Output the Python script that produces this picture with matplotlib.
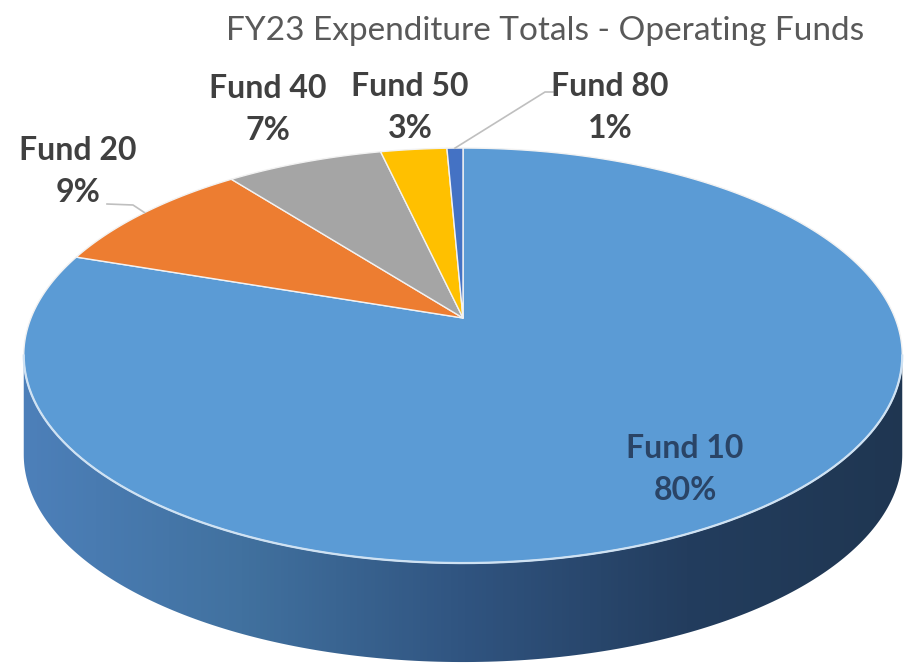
import numpy as np
import matplotlib.pyplot as plt
from matplotlib.patches import Polygon
from matplotlib.colors import LinearSegmentedColormap

# FY23 expenditure shares (labels show them rounded)
funds = ['Fund 10', 'Fund 20', 'Fund 40', 'Fund 50', 'Fund 80']
shares = [80.2, 9.3, 6.9, 2.9, 0.7]
colors = ['#5b9bd5', '#ed7d31', '#a5a5a5', '#ffc000', '#4472c4']
title = 'FY23 Expenditure Totals - Operating Funds'

# pie geometry in pixel units (tilted disc with a bit of perspective)
cx, cy = 463.0, 318.0
A, B, k = 432.0, 200.7, 0.181
depth = 99.0


def proj(theta_deg, z=0.0):
    t = np.radians(theta_deg)
    u, v = np.cos(t), np.sin(t)
    d = 1 + k * v
    return cx + A * u / d, cy + z - B * v / d


fig = plt.figure(figsize=(9.14, 6.65), dpi=100)
ax = fig.add_axes([0, 0, 1, 1])
ax.set_xlim(0, 914)
ax.set_ylim(665, 0)
ax.axis('off')

# slice angles, clockwise from 12 o'clock
cum = np.concatenate([[0], np.cumsum(shares)]) / np.sum(shares)
starts = 90 - cum[:-1] * 360
ends = 90 - cum[1:] * 360

# side wall of the front (only Fund 10 shows there)
th_r = -np.degrees(np.arcsin(k))
th_l = -180 + np.degrees(np.arcsin(k))
ts = np.linspace(th_r, th_l, 200)
tx, ty = proj(ts)
bx, by = proj(ts[::-1], depth)
side = Polygon(np.column_stack([np.r_[tx, bx], np.r_[ty, by]]),
               closed=True, facecolor='none', edgecolor='none')
ax.add_patch(side)
side_cmap = LinearSegmentedColormap.from_list(
    'side', ['#4d80ba', '#41719f', '#305480', '#233d5e', '#1f3651'])
grad = np.linspace(0, 1, 256)[None, :]
im = ax.imshow(grad, cmap=side_cmap, extent=(20, 910, 670, 300),
               aspect='auto', zorder=1)
im.set_clip_path(side)

# top face slices
for s, e, c in zip(starts, ends, colors):
    n = max(int(abs(s - e) * 2), 4)
    ax_, ay_ = proj(np.linspace(s, e, n))
    pts = np.column_stack([np.r_[cx, ax_], np.r_[cy, ay_]])
    ax.add_patch(Polygon(pts, closed=True, facecolor=c, edgecolor='#f2f2f2',
                         linewidth=1.0, joinstyle='round', zorder=2))

# light rim along the front edge
ax.plot(tx, ty, color='#cfe2f3', lw=1.6, zorder=3)

# data labels: name on top, percentage below
label_pos = [(685, 469), (78, 171), (268, 110), (410, 107), (610, 107)]
for i, (name, val) in enumerate(zip(funds, shares)):
    lx, ly = label_pos[i]
    col = '#2a4466' if i == 0 else '#404040'
    for txt, dy in [(name, -21), (f'{val:.0f}%', 21)]:
        ax.text(lx, ly + dy, txt, ha='center', va='center', fontsize=23,
                fontweight='bold', color=col, family='Lato', zorder=5)

# leader lines for Fund 20 and Fund 80
mid20 = (starts[1] + ends[1]) / 2
ex, ey = proj(mid20)
ax.plot([107, 133, ex], [204, 205, ey], color='#bfbfbf', lw=1.2, zorder=4)
mid80 = (starts[4] + ends[4]) / 2
ex, ey = proj(mid80)
ax.plot([553, 545, ex], [92, 92, ey], color='#bfbfbf', lw=1.2, zorder=4)

ax.text(545, 31, title, ha='center', va='center', fontsize=24,
        color='#595959', family='Lato')

fig.savefig('out.png', dpi=100)
